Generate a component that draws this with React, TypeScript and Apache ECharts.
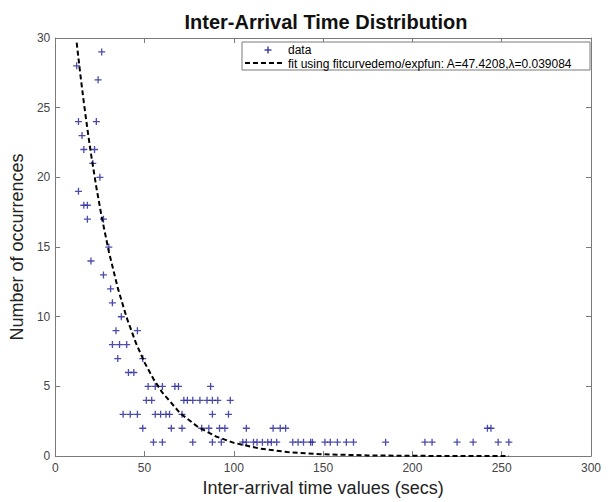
import React, { useEffect, useRef } from "react";
import * as echarts from "echarts";

const titleText = "Inter-Arrival Time Distribution";
const xAxisName = "Inter-arrival time values (secs)";
const yAxisName = "Number of occurrences";
const legendData = "data";
const legendFit = "fit using fitcurvedemo/expfun: A=47.4208,\u03bb=0.039084";

const xTicks = { min: 0, max: 300, interval: 50 };
const yTicks = { min: 0, max: 30, interval: 5 };

// scatter data: occurrence counts (y) at inter-arrival times (x)
const dataX = [
  26, 12, 24, 13, 23, 15, 16, 22, 21, 25, 13, 16, 18, 18, 27, 30, 20, 27, 31, 32, 37,
  34, 46, 32, 36, 40, 35, 49, 41, 44,
  52, 56, 60, 67, 69, 87,
  51, 54, 72, 74, 77, 81, 85, 88, 91, 98,
  38, 42, 46, 56, 59, 62, 64, 71, 88, 97,
  49, 65, 71, 82, 86, 92, 95, 107, 122, 126, 129, 242, 244,
  55, 60, 77, 88, 93, 105, 107, 111, 113, 116, 119, 121, 124, 133, 136, 139, 143, 144,
  151, 154, 158, 163, 167, 185, 207, 211, 225, 234, 248, 254,
];
const dataY = [
  29, 28, 27, 24, 24, 23, 22, 22, 21, 20, 19, 18, 18, 17, 17, 15, 14, 13, 12, 11, 10,
  9, 9, 8, 8, 8, 7, 7, 6, 6,
  5, 5, 5, 5, 5, 5,
  4, 4, 4, 4, 4, 4, 4, 4, 4, 4,
  3, 3, 3, 3, 3, 3, 3, 3, 3, 3,
  2, 2, 2, 2, 2, 2, 2, 2, 2, 2, 2, 2, 2,
  1, 1, 1, 1, 1, 1, 1, 1, 1, 1, 1, 1, 1, 1, 1, 1, 1, 1,
  1, 1, 1, 1, 1, 1, 1, 1, 1, 1, 1, 1,
];

// fitted curve
const fitX = [12, 14, 16, 18, 20, 23, 26, 30, 35, 40, 45, 50, 55, 60, 70, 80, 90, 100, 115, 130, 150, 175, 200, 225, 254];
const fitY = [29.67, 27.44, 25.38, 23.47, 21.7, 19.3, 17.17, 14.68, 12.07, 9.93, 8.17, 6.72, 5.53, 4.55, 3.07, 2.08, 1.41, 0.95, 0.53, 0.29, 0.13, 0.05, 0.02, 0.007, 0.002];

const FONT = "'Liberation Sans', Arial, Helvetica, sans-serif";
const MARK = "#2b2b9c";
const AXIS = "#7a7a7a";
const PLUS = "path://M5,0L5,10M0,5L10,5";

export default function App() {
  const ref = useRef<HTMLDivElement>(null);
  useEffect(() => {
    if (!ref.current) return;
    const chart = echarts.init(ref.current, undefined, { renderer: "svg" });
    const axisCommon = {
      min: xTicks.min,
      max: xTicks.max,
      interval: xTicks.interval,
      axisLine: { show: true, onZero: false, lineStyle: { color: AXIS, width: 1 } },
      axisTick: { show: true, inside: true, length: 5, lineStyle: { color: AXIS } },
      splitLine: { show: false },
    };
    const yCommon = {
      min: yTicks.min,
      max: yTicks.max,
      interval: yTicks.interval,
      axisLine: { show: true, onZero: false, lineStyle: { color: AXIS, width: 1 } },
      axisTick: { show: true, inside: true, length: 5, lineStyle: { color: AXIS } },
      splitLine: { show: false },
    };
    const lx = 242, ly = 42, lw = 348, lh = 28;
    chart.setOption({
      animation: false,
      backgroundColor: "#ffffff",
      title: {
        text: titleText,
        left: 321,
        top: 7,
        textAlign: "center",
        textStyle: { fontFamily: FONT, fontSize: 20, fontWeight: "bold", color: "#111" },
      },
      grid: { left: 53, right: 24, top: 38, bottom: 43, containLabel: false },
      xAxis: [
        {
          type: "value",
          position: "bottom",
          ...axisCommon,
          name: xAxisName,
          nameLocation: "middle",
          nameGap: 22,
          nameTextStyle: { fontFamily: FONT, fontSize: 18, color: "#222" },
          axisLabel: { fontFamily: FONT, fontSize: 12, color: "#444", margin: 6 },
        },
        {
          type: "value",
          position: "top",
          ...axisCommon,
          axisLabel: { show: false },
        },
      ],
      yAxis: [
        {
          type: "value",
          position: "left",
          ...yCommon,
          name: yAxisName,
          nameLocation: "middle",
          nameGap: 24,
          nameRotate: 90,
          nameTextStyle: { fontFamily: FONT, fontSize: 18, color: "#222" },
          axisLabel: { fontFamily: FONT, fontSize: 12, color: "#444", margin: 5 },
        },
        {
          type: "value",
          position: "right",
          ...yCommon,
          axisLabel: { show: false },
        },
      ],
      series: [
        {
          type: "scatter",
          name: legendData,
          xAxisIndex: 0,
          yAxisIndex: 0,
          symbol: PLUS,
          symbolSize: 7,
          itemStyle: { color: "rgba(0,0,0,0)", borderColor: MARK, borderWidth: 1.3, opacity: 0.85 },
          data: dataX.map((x, i) => [x, dataY[i]]),
          z: 3,
        },
        {
          type: "line",
          name: legendFit,
          xAxisIndex: 0,
          yAxisIndex: 0,
          showSymbol: false,
          symbol: "none",
          smooth: false,
          lineStyle: { color: "#000", width: 2, type: [5, 3] },
          data: fitX.map((x, i) => [x, fitY[i]]),
          z: 4,
        },
      ],
      graphic: [
        {
          type: "rect",
          shape: { x: lx, y: ly, width: lw, height: lh },
          style: { fill: "#fff", stroke: AXIS, lineWidth: 1 },
          z: 10,
        },
        {
          type: "line",
          shape: { x1: 268, y1: ly + 4.5, x2: 268, y2: ly + 11.5 },
          style: { stroke: MARK, lineWidth: 1.3 },
          z: 11,
        },
        {
          type: "line",
          shape: { x1: 264.5, y1: ly + 8, x2: 271.5, y2: ly + 8 },
          style: { stroke: MARK, lineWidth: 1.3 },
          z: 11,
        },
        {
          type: "text",
          x: 288,
          y: ly + 8,
          style: { text: legendData, fontFamily: FONT, fontSize: 12, fill: "#000", verticalAlign: "middle" },
          z: 11,
        },
        {
          type: "line",
          shape: { x1: 245, y1: ly + 21, x2: 284, y2: ly + 21 },
          style: { stroke: "#000", lineWidth: 2, lineDash: [5, 3] },
          z: 11,
        },
        {
          type: "text",
          x: 288,
          y: ly + 21.5,
          style: { text: legendFit, fontFamily: FONT, fontSize: 12, fill: "#000", verticalAlign: "middle" },
          z: 11,
        },
      ],
    });
    return () => chart.dispose();
  }, []);
  return (
    <div
      ref={ref}
      style={{ position: "fixed", left: 0, top: 0, width: 615, height: 502, background: "#fff" }}
    />
  );
}
